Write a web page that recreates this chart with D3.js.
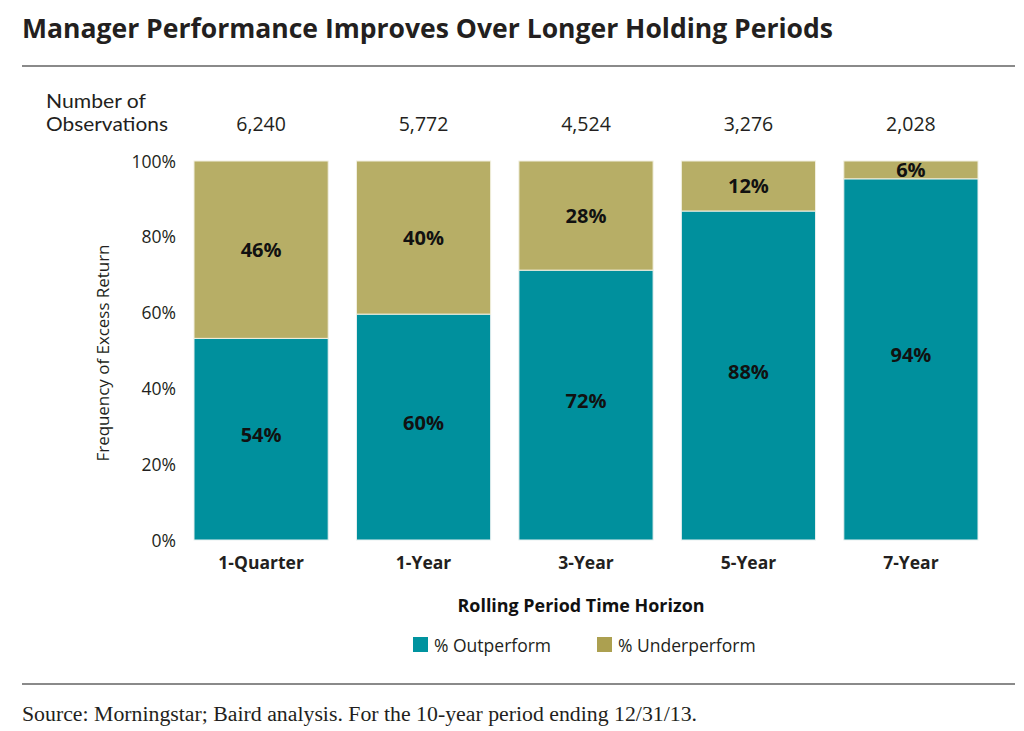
<!DOCTYPE html>
<html><head><meta charset="utf-8">
<script src="https://cdn.jsdelivr.net/npm/d3@7"></script>
<style>body{margin:0;background:#fff}svg{display:block}</style>
</head><body>
<svg id="c" width="1024" height="731"></svg>
<script>
const categories = ["1-Quarter","1-Year","3-Year","5-Year","7-Year"];
const observations = ["6,240","5,772","4,524","3,276","2,028"];
const outperform = [53.2, 59.6, 71.2, 86.8, 95.3];
const underperform = [46.8, 40.4, 28.8, 13.2, 4.7];
const outLabels = ["54%","60%","72%","88%","94%"];
const underLabels = ["46%","40%","28%","12%","6%"];
const yTicks = [0,20,40,60,80,100];
const seriesNames = ["% Outperform","% Underperform"];
const colors = ["#00909D","#B7AE66"];
const legendColors = ["#00939F","#ACA050"];

const svg = d3.select("#c");
const F = "'Open Sans', 'Noto Sans', sans-serif";
const L = "Lato, 'Open Sans', sans-serif";

svg.append("text").attr("x",22).attr("y",38).attr("font-family",F).attr("font-weight",700)
  .attr("font-size",26).attr("fill","#231f20").attr("textLength",811).attr("lengthAdjust","spacingAndGlyphs")
  .text("Manager Performance Improves Over Longer Holding Periods");
svg.append("line").attr("x1",22).attr("x2",1015).attr("y1",66).attr("y2",66).attr("stroke","#8a8a8a").attr("stroke-width",2);
svg.append("line").attr("x1",22).attr("x2",1015).attr("y1",684).attr("y2",684).attr("stroke","#8a8a8a").attr("stroke-width",2);

const x = d3.scaleBand().domain(categories).range([194,978]).paddingInner(0.174).paddingOuter(0);
const y = d3.scaleLinear().domain([0,100]).range([540,161]);

// y axis labels
const yAxis = d3.axisLeft(y).tickValues(yTicks).tickFormat(d=>d+"%").tickSize(0).tickPadding(0);
const ga = svg.append("g").attr("transform","translate(176,0)").call(yAxis);
ga.select(".domain").remove();
ga.selectAll("text").attr("font-family",F).attr("font-size",17.5).attr("fill","#231f20").attr("dy","0.35em");

svg.append("text").attr("transform","translate(109,353) rotate(-90)").attr("text-anchor","middle")
  .attr("font-family",F).attr("font-size",16.5).attr("fill","#231f20")
  .attr("textLength",217).attr("lengthAdjust","spacingAndGlyphs").text("Frequency of Excess Return");

// observations
svg.append("text").attr("x",46).attr("y",108).attr("font-family",L).attr("font-size",19).attr("fill","#231f20")
  .attr("textLength",100).attr("lengthAdjust","spacingAndGlyphs").text("Number of");
svg.append("text").attr("x",46).attr("y",131).attr("font-family",L).attr("font-size",19).attr("fill","#231f20")
  .attr("textLength",122).attr("lengthAdjust","spacingAndGlyphs").text("Observations");
svg.selectAll(".obs").data(categories).enter().append("text").attr("class","obs")
  .attr("x",d=>x(d)+x.bandwidth()/2).attr("y",131).attr("text-anchor","middle")
  .attr("font-family",F).attr("font-size",19.5).attr("fill","#231f20").text((d,i)=>observations[i]);

// bars
const data = categories.map((c,i)=>({c,o:outperform[i],u:underperform[i],ol:outLabels[i],ul:underLabels[i]}));
const g = svg.append("g");
g.selectAll(".bo").data(data).enter().append("rect")
  .attr("x",d=>x(d.c)).attr("width",x.bandwidth()).attr("y",d=>y(d.o)).attr("height",d=>y(0)-y(d.o))
  .attr("fill",colors[0]).attr("stroke","#e8f0f0").attr("stroke-width",1);
g.selectAll(".bu").data(data).enter().append("rect")
  .attr("x",d=>x(d.c)).attr("width",x.bandwidth()).attr("y",d=>y(d.o+d.u)).attr("height",d=>y(d.o)-y(d.o+d.u))
  .attr("fill",colors[1]).attr("stroke","#f2f0e0").attr("stroke-width",1);

g.selectAll(".lo").data(data).enter().append("text")
  .attr("x",d=>x(d.c)+x.bandwidth()/2).attr("y",d=>(y(0)+y(d.o))/2 - 4).attr("dy","0.35em").attr("text-anchor","middle")
  .attr("font-family",F).attr("font-weight",700).attr("font-size",20).attr("fill","#111").text(d=>d.ol);
g.selectAll(".lu").data(data).enter().append("text")
  .attr("x",d=>x(d.c)+x.bandwidth()/2).attr("y",d=>(y(d.o)+y(d.o+d.u))/2).attr("dy","0.35em").attr("text-anchor","middle")
  .attr("font-family",F).attr("font-weight",700).attr("font-size",20).attr("fill","#111").text(d=>d.ul);

// x axis
const xAxis = d3.axisBottom(x).tickSize(0).tickPadding(0);
const gx = svg.append("g").attr("transform","translate(0,557)").call(xAxis);
gx.select(".domain").remove();
gx.selectAll("text").attr("font-family",F).attr("font-weight",700).attr("font-size",17.5).attr("fill","#231f20").attr("dy","0.71em");

svg.append("text").attr("x",581).attr("y",612).attr("text-anchor","middle").attr("font-family",F)
  .attr("font-weight",700).attr("font-size",17).attr("fill","#111")
  .attr("textLength",247).attr("lengthAdjust","spacingAndGlyphs").text("Rolling Period Time Horizon");

// legend
const lx = [413, 597];
seriesNames.forEach((n,i)=>{
  svg.append("rect").attr("x",lx[i]).attr("y",637).attr("width",15).attr("height",15).attr("fill",legendColors[i]);
  svg.append("text").attr("x",lx[i]+21).attr("y",652).attr("font-family",F).attr("font-size",17.5).attr("fill","#231f20").text(n);
});

svg.append("text").attr("x",22).attr("y",721).attr("font-family","'Liberation Serif', serif").attr("font-size",20)
  .attr("fill","#231f20").attr("textLength",675).attr("lengthAdjust","spacingAndGlyphs")
  .text("Source: Morningstar; Baird analysis. For the 10-year period ending 12/31/13.");
</script>
</body></html>
